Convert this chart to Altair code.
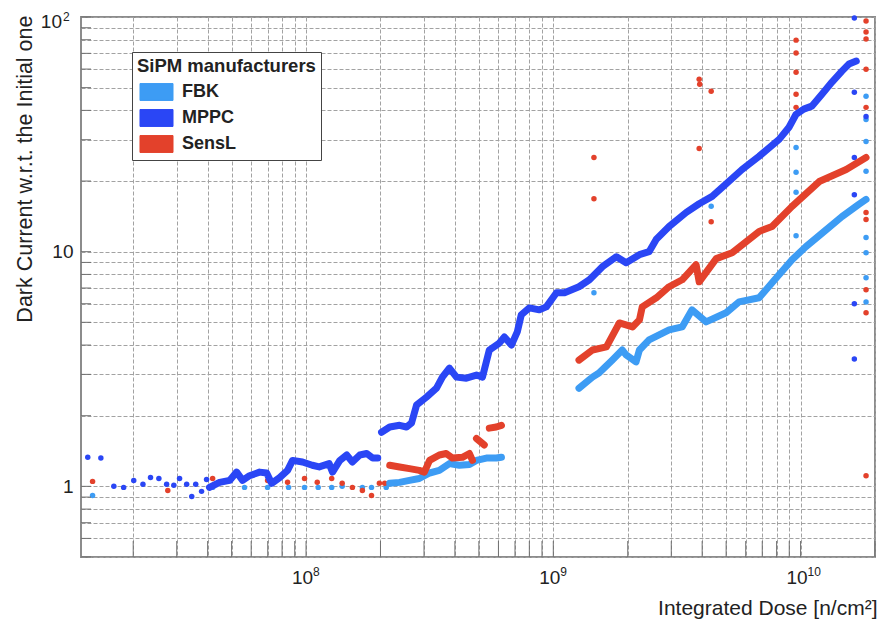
import altair as alt
import pandas as pd

FONT = "Liberation Sans"

makers = ["FBK", "MPPC", "SensL"]
maker_colors = ["#3d9cf4", "#2a46f5", "#e3412b"]

# ---------------- FBK ----------------
fbk_low_dose = [1.37e7, 4.19e7, 5.64e7, 6.99e7, 8.50e7, 9.86e7, 1.12e8, 1.27e8, 1.40e8, 1.69e8, 1.84e8, 2.11e8]
fbk_low_ratio = [0.915, 0.99, 0.99, 0.99, 0.99, 0.99, 0.99, 0.99, 1.0, 0.99, 0.99, 0.99]
fbk_mid_dose = [2.18e8, 2.39e8, 2.62e8, 2.87e8, 3.16e8, 3.46e8, 3.80e8, 4.17e8, 4.58e8, 4.89e8, 5.36e8, 5.88e8, 6.17e8]
fbk_mid_ratio = [1.03, 1.04, 1.06, 1.08, 1.14, 1.17, 1.25, 1.23, 1.24, 1.29, 1.32, 1.32, 1.33]
fbk_high_dose = [1.27e9, 1.44e9, 1.53e9, 1.73e9, 1.90e9, 1.97e9, 2.16e9, 2.23e9, 2.44e9, 2.94e9, 3.32e9, 3.64e9,
                 4.15e9, 5.00e9, 5.64e9, 6.80e9, 7.67e9, 9.24e9, 1.05e10, 1.27e10, 1.47e10, 1.72e10, 1.84e10]
fbk_high_ratio = [2.62, 2.92, 3.04, 3.45, 3.81, 3.63, 3.39, 3.81, 4.21, 4.64, 4.78, 5.65,
                  5.02, 5.49, 6.11, 6.36, 7.37, 9.24, 10.5, 12.4, 14.1, 15.9, 16.7]
fbk_out_dose = [1.46e9, 4.35e9, 9.59e9, 9.59e9, 9.59e9, 9.59e9, 1.84e10, 1.84e10, 1.84e10, 1.84e10, 1.84e10, 1.84e10, 1.84e10, 1.84e10]
fbk_out_ratio = [6.68, 15.6, 27.8, 21.8, 17.9, 11.7, 46.0, 36.6, 29.5, 22.0, 11.5, 9.9, 7.74, 6.11]

# ---------------- MPPC ----------------
mppc_low_dose = [1.31e7, 1.48e7, 1.67e7, 1.83e7, 2.01e7, 2.19e7, 2.35e7, 2.54e7, 2.73e7, 2.92e7, 3.08e7, 3.29e7, 3.45e7, 3.58e7, 3.78e7, 3.96e7]
mppc_low_ratio = [1.33, 1.32, 1.00, 0.99, 1.06, 1.02, 1.09, 1.08, 1.02, 1.01, 1.08, 1.02, 0.906, 1.02, 0.952, 1.07]
mppc_mid_dose = [4.07e7, 4.47e7, 4.91e7, 5.24e7, 5.54e7, 5.91e7, 6.49e7, 6.93e7, 7.26e7, 7.82e7, 8.42e7, 8.82e7,
                 9.68e7, 1.06e8, 1.13e8, 1.24e8, 1.28e8, 1.37e8, 1.46e8, 1.54e8, 1.65e8, 1.76e8, 1.86e8, 1.95e8]
mppc_mid_ratio = [0.99, 1.04, 1.06, 1.15, 1.06, 1.11, 1.15, 1.14, 1.03, 1.09, 1.17, 1.29,
                  1.27, 1.23, 1.21, 1.25, 1.15, 1.29, 1.36, 1.27, 1.36, 1.38, 1.32, 1.32]
mppc_high_dose = [2.02e8, 2.18e8, 2.39e8, 2.55e8, 2.67e8, 2.80e8, 3.07e8, 3.37e8, 3.56e8, 3.80e8, 4.06e8, 4.45e8,
                  4.89e8, 5.17e8, 5.51e8, 6.05e8, 6.34e8, 6.77e8, 7.15e8, 7.42e8, 8.00e8, 8.78e8, 9.37e8, 1.03e9,
                  1.11e9, 1.27e9, 1.40e9, 1.58e9, 1.80e9, 1.97e9, 2.23e9, 2.44e9, 2.61e9, 2.94e9, 3.45e9, 3.89e9,
                  4.39e9, 4.91e9, 5.80e9, 6.80e9, 8.19e9, 8.98e9, 9.59e9, 1.03e10, 1.11e10, 1.22e10, 1.34e10,
                  1.47e10, 1.57e10, 1.68e10]
mppc_high_ratio = [1.70, 1.79, 1.82, 1.79, 1.86, 2.22, 2.40, 2.62, 2.92, 3.19, 2.92, 2.89,
                   2.98, 2.92, 3.81, 4.08, 4.33, 4.00, 4.55, 5.38, 5.76, 5.65, 5.82, 6.68,
                   6.68, 7.09, 7.59, 8.63, 9.52, 8.97, 9.71, 10.0, 11.3, 12.8, 14.7, 16.0,
                   17.2, 19.1, 22.4, 25.5, 30.1, 33.9, 38.5, 40.5, 41.7, 46.9, 52.8,
                   58.8, 63.0, 64.9]
mppc_out_dose = [1.65e10, 1.65e10, 1.65e10, 1.65e10, 1.65e10, 1.65e10, 1.84e10]
mppc_out_ratio = [99.0, 47.8, 25.2, 17.5, 6.0, 3.49, 37.7]

# ---------------- SensL ----------------
sensl_low_dose = [1.37e7, 2.76e7, 4.19e7, 5.54e7, 6.99e7, 8.42e7, 9.86e7, 1.11e8, 1.27e8, 1.40e8, 1.54e8, 1.69e8, 1.84e8, 1.98e8, 2.08e8]
sensl_low_ratio = [1.05, 0.96, 1.08, 1.08, 1.06, 1.04, 1.08, 1.04, 1.08, 1.03, 0.99, 0.96, 0.915, 1.03, 1.03]
sensl_mid_dose = [2.18e8, 2.39e8, 2.62e8, 2.87e8, 3.01e8, 3.16e8, 3.46e8, 3.69e8, 3.91e8, 4.29e8, 4.58e8, 4.71e8]
sensl_mid_ratio = [1.23, 1.21, 1.19, 1.17, 1.15, 1.29, 1.36, 1.38, 1.32, 1.33, 1.38, 1.29]
sensl_step_dose = [4.89e8, 5.26e8]
sensl_step_ratio = [1.60, 1.50]
sensl_top_dose = [5.51e8, 5.88e8, 6.17e8]
sensl_top_ratio = [1.77, 1.79, 1.82]
sensl_high_dose = [1.27e9, 1.44e9, 1.64e9, 1.85e9, 2.09e9, 2.23e9, 2.29e9, 2.61e9, 2.94e9, 3.32e9, 3.78e9, 3.89e9,
                   4.56e9, 5.29e9, 6.80e9, 7.67e9, 9.24e9, 1.19e10, 1.53e10, 1.84e10]
sensl_high_ratio = [3.45, 3.81, 3.93, 4.97, 4.78, 5.12, 5.82, 6.36, 7.09, 7.59, 8.80, 7.44,
                    9.34, 9.9, 12.2, 12.8, 15.6, 19.9, 22.4, 25.2]
sensl_out_dose = [1.46e9, 1.46e9, 3.89e9, 3.91e9, 3.89e9, 4.35e9, 4.35e9, 9.59e9, 9.59e9, 9.59e9, 9.59e9, 9.59e9,
                  1.84e10, 1.84e10, 1.84e10, 1.84e10, 1.84e10, 1.84e10, 1.84e10, 1.84e10, 1.84e10, 1.84e10]
sensl_out_ratio = [25.2, 16.8, 54.3, 51.7, 27.5, 48.3, 13.4, 79.7, 70.2, 58.2, 46.9, 41.2,
                   96.1, 86.3, 80.5, 59.9, 41.2, 14.7, 13.7, 6.88, 5.49, 1.11]

# ---------------- axes ----------------
x_grid = [2e7, 3e7, 4e7, 5e7, 6e7, 7e7, 8e7, 9e7,
          1e8, 2e8, 3e8, 4e8, 5e8, 6e8, 7e8, 8e8, 9e8,
          1e9, 2e9, 3e9, 4e9, 5e9, 6e9, 7e9, 8e9, 9e9,
          1e10, 2e10]
y_grid = [0.5, 0.6, 0.7, 0.8, 0.9, 1, 2, 3, 4, 5, 6, 7, 8, 9,
          10, 20, 30, 40, 50, 60, 70, 80, 90, 100]
x_tick_values = [1e8, 1e9, 1e10]
x_tick_base = ["10", "10", "10"]
x_tick_exponents = ["8", "9", "10"]
y_tick_values = [1, 10]
y_tick_labels = ["1", "10"]
y_top_value = [100]
y_top_base = ["10"]
y_top_exponent = ["2"]

x_title = "Integrated Dose [n/cm²]"
y_title = "Dark Current w.r.t. the Initial one"
legend_title = "SiPM manufacturers"


def label_expr(values, labels):
    expr = "''"
    for v, l in reversed(list(zip(values, labels))):
        expr = f"(abs(datum.value - {v!r}) < {v!r} * 1e-6) ? '{l}' : {expr}"
    return expr


rows = []


def add(maker, track, doses, ratios):
    for d, r in zip(doses, ratios):
        rows.append({"maker": maker, "track": track, "dose": d, "ratio": r})


add("FBK", "", fbk_low_dose, fbk_low_ratio)
add("FBK", "FBK-1", fbk_mid_dose, fbk_mid_ratio)
add("FBK", "FBK-2", fbk_high_dose, fbk_high_ratio)
add("FBK", "", fbk_out_dose, fbk_out_ratio)
add("MPPC", "", mppc_low_dose, mppc_low_ratio)
add("MPPC", "MPPC-1", mppc_mid_dose, mppc_mid_ratio)
add("MPPC", "MPPC-2", mppc_high_dose, mppc_high_ratio)
add("MPPC", "", mppc_out_dose, mppc_out_ratio)
add("SensL", "", sensl_low_dose, sensl_low_ratio)
add("SensL", "SensL-1", sensl_mid_dose, sensl_mid_ratio)
add("SensL", "SensL-2", sensl_step_dose, sensl_step_ratio)
add("SensL", "SensL-3", sensl_top_dose, sensl_top_ratio)
add("SensL", "SensL-4", sensl_high_dose, sensl_high_ratio)
add("SensL", "", sensl_out_dose, sensl_out_ratio)

df = pd.DataFrame(rows)
order_map = {m: i for i, m in enumerate(makers)}
df["order"] = df["maker"].map(order_map)
df = df.sort_values("order", kind="stable")

W, H = 794, 540
xscale = alt.Scale(type="log", domain=[1.23e7, 2e10], nice=False)
yscale = alt.Scale(type="log", domain=[0.5, 100], nice=False)
cscale = alt.Scale(domain=makers, range=maker_colors)

swatch = "M-1.27,-0.65L1.27,-0.65L1.27,0.65L-1.27,0.65Z"

x_axis = alt.Axis(
    values=x_grid, labelExpr=label_expr(x_tick_values, x_tick_base),
    grid=True, gridDash=[4, 2], gridColor="#a2a2a2", gridWidth=1,
    domain=False, ticks=False, labelPadding=11, labelFontSize=19, labelFont=FONT,
    labelColor="#222", labelOverlap=False, labelFlush=False, labelOffset=-4,
    title=x_title, titleFont=FONT, titleFontSize=21, titleFontWeight="normal", titleColor="#222",
    titleX=796, titleY=57, titleAlign="right", titleBaseline="alphabetic", titleAnchor="end",
)
y_axis = alt.Axis(
    values=y_grid, labelExpr=label_expr(y_tick_values, y_tick_labels),
    grid=True, gridDash=[4, 2], gridColor="#a2a2a2", gridWidth=1,
    domain=False, ticks=False, labelPadding=8, labelFontSize=19, labelFont=FONT,
    labelColor="#222", labelOverlap=False, labelFlush=False,
    title=y_title, titleFont=FONT, titleFontSize=21.5, titleFontWeight="normal", titleColor="#222",
    titleX=-56, titleY=-2, titleAngle=270, titleAlign="right", titleBaseline="middle",
)

legend = alt.Legend(
    title=legend_title, orient="none", legendX=51, legendY=35,
    titleFont=FONT, titleFontSize=18.5, titleFontWeight="bold", titleColor="#222", titlePadding=3,
    labelFont=FONT, labelFontSize=18, labelFontWeight="bold", labelColor="#222",
    symbolType=swatch, symbolSize=676, symbolStrokeColor="#333", symbolStrokeWidth=1,
    symbolOpacity=1, symbolOffset=6, labelOffset=12, rowPadding=2,
    padding=5, strokeColor="#444", fillColor="white", cornerRadius=0,
)

base = alt.Chart(df)

points = base.mark_circle(size=30, opacity=1).encode(
    x=alt.X("dose:Q", scale=xscale, axis=x_axis),
    y=alt.Y("ratio:Q", scale=yscale, axis=y_axis),
    color=alt.Color("maker:N", scale=cscale, legend=legend),
    order=alt.Order("order:Q"),
)

lines = base.transform_filter("datum.track != ''").mark_line(
    strokeWidth=7, strokeJoin="round", strokeCap="round"
).encode(
    x=alt.X("dose:Q", scale=xscale, axis=x_axis),
    y=alt.Y("ratio:Q", scale=yscale, axis=y_axis),
    color=alt.Color("maker:N", scale=cscale, legend=legend),
    detail="track:N",
)

xt = pd.DataFrame({"dose": x_grid})
yt = pd.DataFrame({"ratio": y_grid})
x_ticks = alt.Chart(xt).mark_rule(color="#6f6f6f", strokeWidth=1).encode(
    x=alt.X("dose:Q", scale=xscale, axis=x_axis), y=alt.value(H), y2=alt.value(H - 16)
)
y_ticks = alt.Chart(yt).mark_rule(color="#6f6f6f", strokeWidth=1).encode(
    y=alt.Y("ratio:Q", scale=yscale, axis=y_axis), x=alt.value(0), x2=alt.value(10)
)

# superscript exponents of the x tick labels
xe = pd.DataFrame({"dose": x_tick_values, "txt": x_tick_exponents})
x_exp = alt.Chart(xe).mark_text(
    align="left", baseline="alphabetic", font=FONT, fontSize=12, color="#222", dx=7
).encode(x=alt.X("dose:Q", scale=xscale, axis=x_axis), y=alt.value(H + 19), text="txt:N")

# top y label 10^2
ye = pd.DataFrame({"ratio": y_top_value, "base": y_top_base, "exp": y_top_exponent})
y_top = alt.Chart(ye).mark_text(
    align="right", baseline="middle", font=FONT, fontSize=19, color="#222", dx=-19, dy=5
).encode(y=alt.Y("ratio:Q", scale=yscale, axis=y_axis), x=alt.value(0), text="base:N")
y_top_exp = alt.Chart(ye).mark_text(
    align="left", baseline="alphabetic", font=FONT, fontSize=12, color="#222", dx=-18, dy=4
).encode(y=alt.Y("ratio:Q", scale=yscale, axis=y_axis), x=alt.value(0), text="exp:N")

chart = alt.layer(points, lines, x_ticks, y_ticks, x_exp, y_top, y_top_exp).properties(
    width=W, height=H,
    autosize=alt.AutoSizeParams(type="none"),
    padding={"left": 81, "top": 17, "right": 4, "bottom": 64},
    background="white",
).configure_view(stroke="#8c8c8c", strokeWidth=2)

chart.save("out.html", embed_options={"renderer": "svg", "actions": False})
